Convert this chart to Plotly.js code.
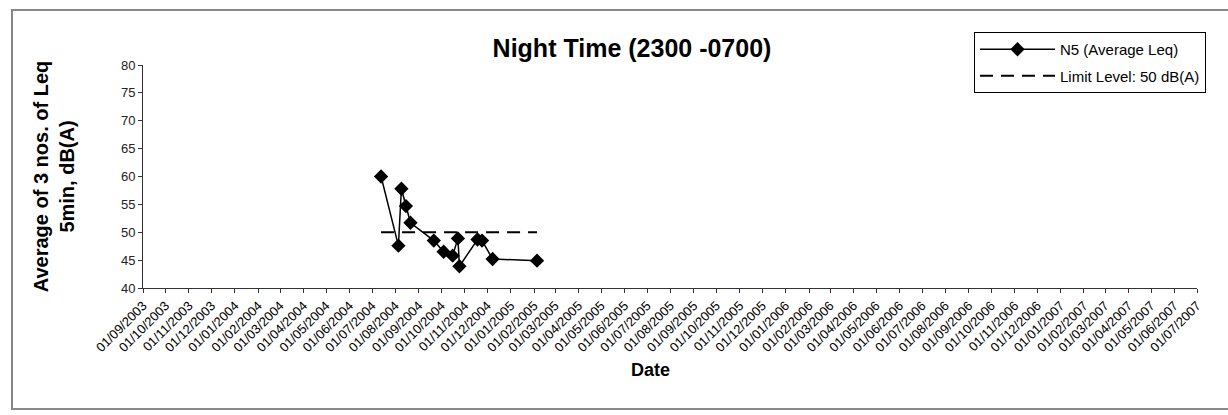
<!DOCTYPE html>
<html>
<head>
<meta charset="utf-8">
<script src="https://cdn.plot.ly/plotly-3.0.1.min.js"></script>
<style>html,body{margin:0;padding:0;background:#fff;}#chart{width:1228px;height:415px;}</style>
</head>
<body>
<div id="chart"></div>
<script>
// Data
const measureDates = ["2004-07-13","2004-08-05","2004-08-09","2004-08-15","2004-08-21","2004-09-21","2004-10-04","2004-10-16","2004-10-23","2004-10-25","2004-11-18","2004-11-24","2004-12-08","2005-02-05"];
const averageLeq = [60.0, 47.6, 57.8, 54.7, 51.7, 48.5, 46.5, 45.8, 48.9, 43.9, 48.7, 48.5, 45.2, 44.9];
const limitDates = ["2004-07-13","2005-02-05"];
const limitLevel = [50, 50];
const tickLabels = ["01/09/2003","01/10/2003","01/11/2003","01/12/2003","01/01/2004","01/02/2004","01/03/2004","01/04/2004","01/05/2004","01/06/2004","01/07/2004","01/08/2004","01/09/2004","01/10/2004","01/11/2004","01/12/2004","01/01/2005","01/02/2005","01/03/2005","01/04/2005","01/05/2005","01/06/2005","01/07/2005","01/08/2005","01/09/2005","01/10/2005","01/11/2005","01/12/2005","01/01/2006","01/02/2006","01/03/2006","01/04/2006","01/05/2006","01/06/2006","01/07/2006","01/08/2006","01/09/2006","01/10/2006","01/11/2006","01/12/2006","01/01/2007","01/02/2007","01/03/2007","01/04/2007","01/05/2007","01/06/2007","01/07/2007"];
const yTicks = [40, 45, 50, 55, 60, 65, 70, 75, 80];

const tickVals = tickLabels.map(s => { const p = s.split('/'); return p[2] + '-' + p[1] + '-' + p[0]; });

const traces = [
  {
    x: measureDates, y: averageLeq, name: 'N5 (Average Leq)', type: 'scatter', mode: 'lines+markers',
    legendgroup: 'a',
    line: {color: '#000', width: 1.5},
    marker: {symbol: 'diamond', size: 11, color: '#000'}
  },
  {
    x: limitDates, y: limitLevel, name: 'Limit Level: 50 dB(A)', type: 'scatter', mode: 'lines',
    legendgroup: 'b',
    line: {color: '#000', width: 2, dash: '13px,8px'}
  }
];

const layout = {
  width: 1228, height: 415,
  margin: {l: 143, r: 31, t: 65, b: 127},
  paper_bgcolor: '#fff', plot_bgcolor: '#fff',
  font: {family: 'Liberation Sans, Arial, sans-serif', color: '#000', size: 12},
  title: {
    text: '<b>Night Time (2300 -0700)</b>',
    font: {size: 25, family: 'Liberation Sans, Arial, sans-serif', color: '#000'},
    x: 632 / 1228, xref: 'container', xanchor: 'center',
    y: 1 - 48 / 415, yref: 'container', yanchor: 'middle'
  },
  xaxis: {
    type: 'date',
    range: [tickVals[0], tickVals[tickVals.length - 1]],
    tickvals: tickVals, ticktext: tickLabels, tickangle: -45,
    ticks: 'outside', ticklen: 4, tickcolor: '#333',
    showgrid: false, zeroline: false,
    showline: true, linecolor: '#333', linewidth: 1,
    tickfont: {size: 13}
  },
  yaxis: {
    range: [40, 80], tickvals: yTicks,
    ticks: 'outside', ticklen: 4, tickcolor: '#333',
    showgrid: false, zeroline: false,
    showline: true, linecolor: '#333', linewidth: 1,
    tickfont: {size: 13, color: '#222'},
    title: {text: '<b>Average of 3 nos. of Leq<br>5min, dB(A)</b>', font: {size: 20}, standoff: 40}
  },
  annotations: [
    {text: '<b>Date</b>', xref: 'paper', yref: 'paper',
     x: (650 - 143) / 1054, y: (288 - 370) / 223, xanchor: 'center', yanchor: 'middle',
     showarrow: false, font: {size: 18}}
  ],
  legend: {
    x: (974 - 143) / 1054, xanchor: 'left',
    y: (288 - 32) / 223, yanchor: 'top',
    bordercolor: '#000', borderwidth: 1, bgcolor: '#fff',
    font: {size: 15},
    itemwidth: 75, tracegroupgap: 4
  },
  showlegend: true,
  shapes: [
    {type: 'rect', xref: 'paper', yref: 'paper',
     x0: (12 - 143) / 1054, x1: (1232 - 143) / 1054,
     y0: (288 - 409) / 223, y1: (288 - 10) / 223,
     line: {color: '#888', width: 2}, fillcolor: 'rgba(0,0,0,0)', layer: 'below'}
  ]
};

Plotly.newPlot('chart', traces, layout, {displayModeBar: false, staticPlot: true});
</script>
</body>
</html>
